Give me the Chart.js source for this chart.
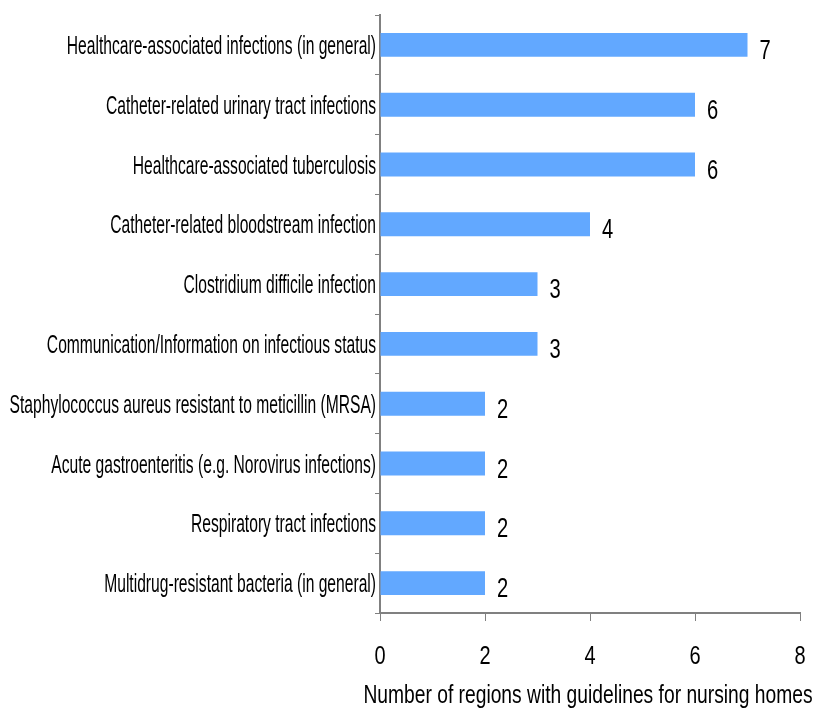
<!DOCTYPE html>
<html>
<head>
<meta charset="utf-8">
<script src="https://cdn.jsdelivr.net/npm/chart.js@4/dist/chart.umd.min.js"></script>
<style>
html,body{margin:0;padding:0;background:#fff;}
#wrap{width:814px;height:709px;}
</style>
</head>
<body>
<div id="wrap"><canvas id="c" width="814" height="709"></canvas></div>
<script>
const categories = [
  "Healthcare-associated infections (in general)",
  "Catheter-related urinary tract infections",
  "Healthcare-associated tuberculosis",
  "Catheter-related bloodstream infection",
  "Clostridium difficile infection",
  "Communication/Information on infectious status",
  "Staphylococcus aureus resistant to meticillin (MRSA)",
  "Acute gastroenteritis (e.g. Norovirus infections)",
  "Respiratory tract infections",
  "Multidrug-resistant bacteria (in general)"
];
const values = [7, 6, 6, 4, 3, 3, 2, 2, 2, 2];
const xTicks = [0, 2, 4, 6, 8];
const xTitle = "Number of regions with guidelines for nursing homes";

const FONT = "'Liberation Sans', Arial, sans-serif";

// draw horizontally condensed text (the reference uses a narrow face)
function condensedText(ctx, text, x, y, size, sx, align) {
  ctx.save();
  ctx.font = size + "px " + FONT;
  ctx.textBaseline = "alphabetic";
  ctx.textAlign = align;
  ctx.translate(x, y);
  ctx.scale(sx, 1);
  ctx.fillText(text, 0, 0);
  ctx.restore();
}

const textLayer = {
  id: 'textLayer',
  afterDraw(chart) {
    const ctx = chart.ctx;
    const xs = chart.scales.x, ys = chart.scales.y;
    ctx.save();
    ctx.fillStyle = "#000";
    // category labels
    ys.ticks.forEach((t, i) => {
      const y = ys.getPixelForTick(i);
      condensedText(ctx, ys.getLabelForValue(t.value), ys.right - 4, y + 9, 25, 0.625, "right");
    });
    // x tick labels
    xs.ticks.forEach((t, i) => {
      const x = xs.getPixelForTick(i);
      condensedText(ctx, String(t.value), x, xs.top + 51, 25, 0.8, "center");
    });
    // x title
    condensedText(ctx, xTitle, (xs.left + xs.right) / 2 - 2, xs.top + 90, 26, 0.74, "center");
    // value labels
    chart.getDatasetMeta(0).data.forEach((bar, i) => {
      condensedText(ctx, String(values[i]), bar.x + 12, bar.y + 14, 28, 0.72, "left");
    });
    ctx.restore();
  }
};

new Chart(document.getElementById('c'), {
  type: 'bar',
  data: {
    labels: categories,
    datasets: [{
      data: values,
      backgroundColor: '#62A8FF',
      borderWidth: 0,
      barPercentage: 0.4,
      categoryPercentage: 1.0
    }]
  },
  options: {
    indexAxis: 'y',
    responsive: false,
    animation: false,
    devicePixelRatio: 1,
    layout: { padding: { top: 15, right: 14, left: 0, bottom: 0 } },
    plugins: { legend: { display: false }, tooltip: { enabled: false } },
    scales: {
      x: {
        min: 0, max: 8,
        afterBuildTicks(scale) { scale.ticks = xTicks.map(v => ({ value: v })); },
        afterFit(scale) { scale.height = 96; },
        border: { color: '#808080', width: 2 },
        grid: { drawOnChartArea: false, drawTicks: true, tickLength: 8, color: '#808080', lineWidth: 1 },
        ticks: { display: false }
      },
      y: {
        afterFit(scale) { scale.width = 380; },
        border: { color: '#808080', width: 2 },
        grid: { drawOnChartArea: false, drawTicks: true, tickLength: 5, color: '#808080', offset: true },
        ticks: { display: false, autoSkip: false }
      }
    }
  },
  plugins: [textLayer]
});
</script>
</body>
</html>
